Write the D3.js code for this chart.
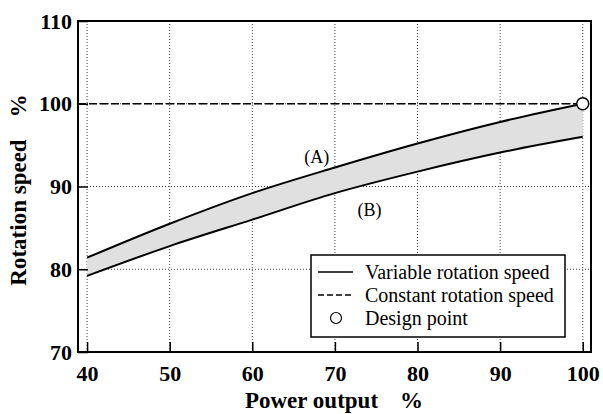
<!DOCTYPE html>
<html>
<head>
<meta charset="utf-8">
<script src="https://cdn.jsdelivr.net/npm/d3@7"></script>
<style>
  body { margin: 0; background: #fff; }
</style>
</head>
<body>
<svg id="chart" width="603" height="414" font-family="Liberation Serif"></svg>
<script>
// ---- data ----
const powerOutput = [40, 50, 60, 70, 80, 90, 100];
const speedA = [81.4, 85.5, 89.2, 92.3, 95.2, 97.8, 100.0];   // upper bound (A)
const speedB = [79.2, 82.8, 86.0, 89.2, 91.8, 94.1, 96.0];    // lower bound (B)
const constantSpeed = 100;
const designPoint = [100, 100];
const xTicks = [40, 50, 60, 70, 80, 90, 100];
const yTicks = [70, 80, 90, 100, 110];
const legendLabels = ["Variable rotation speed", "Constant rotation speed", "Design point"];

const FONT = "Liberation Serif";
const svg = d3.select("#chart");
const x = d3.scaleLinear().domain([38.9, 101]).range([78, 591]);
const y = d3.scaleLinear().domain([70, 110]).range([352, 21]);

// grid
const grid = svg.append("g").attr("stroke", "#444").attr("stroke-width", 1).attr("stroke-dasharray", "1,2");
grid.selectAll(".gx").data(xTicks).join("line")
  .attr("x1", d => x(d)).attr("x2", d => x(d)).attr("y1", y(110)).attr("y2", y(70));
grid.selectAll(".gy").data(yTicks.filter(d => d > 70 && d < 110)).join("line")
  .attr("x1", x.range()[0]).attr("x2", x.range()[1]).attr("y1", d => y(d)).attr("y2", d => y(d));

// band
const pts = powerOutput.map((p, i) => ({p, a: speedA[i], b: speedB[i]}));
svg.append("path").datum(pts)
  .attr("fill", "#e0e0e0")
  .attr("d", d3.area().x(d => x(d.p)).y0(d => y(d.b)).y1(d => y(d.a)).curve(d3.curveMonotoneX));

const line = d3.line().curve(d3.curveMonotoneX);
svg.append("path").attr("fill", "none").attr("stroke", "#000").attr("stroke-width", 2)
  .attr("d", line(pts.map(d => [x(d.p), y(d.a)])));
svg.append("path").attr("fill", "none").attr("stroke", "#000").attr("stroke-width", 2)
  .attr("d", line(pts.map(d => [x(d.p), y(d.b)])));

// constant speed
svg.append("line").attr("stroke", "#000").attr("stroke-width", 1.5).attr("stroke-dasharray", "8,3")
  .attr("x1", x.range()[0]).attr("x2", x(designPoint[0])).attr("y1", y(constantSpeed)).attr("y2", y(constantSpeed));

// labels A / B
svg.append("text").attr("x", x(67.8)).attr("y", y(92.3) - 4).attr("text-anchor", "middle")
  .attr("font-family", FONT).attr("font-size", 18).text("(A)");
svg.append("text").attr("x", x(74.2)).attr("y", y(87.2) + 6).attr("text-anchor", "middle")
  .attr("font-family", FONT).attr("font-size", 18).text("(B)");

// axes
const xAxis = svg.append("g").attr("transform", `translate(0,${y(70)})`)
  .call(d3.axisBottom(x).tickValues(xTicks).tickSize(-10).tickPadding(13));
const yAxis = svg.append("g").attr("transform", `translate(${x.range()[0]},0)`)
  .call(d3.axisLeft(y).tickValues(yTicks).tickSize(-10).tickPadding(6));
[xAxis, yAxis].forEach(g => {
  g.attr("font-family", FONT).attr("font-size", 22);
  g.select(".domain").remove();
  g.selectAll(".tick line").attr("stroke", "#000").attr("stroke-width", 1.5);
  g.selectAll(".tick text").attr("font-family", FONT)
    .attr("font-size", 22).attr("font-weight", "bold").attr("fill", "#000");
});

// frame
svg.append("rect").attr("x", x.range()[0]).attr("y", y(110))
  .attr("width", x.range()[1] - x.range()[0]).attr("height", y(70) - y(110))
  .attr("fill", "none").attr("stroke", "#000").attr("stroke-width", 2);

// design point
svg.append("circle").attr("cx", x(designPoint[0])).attr("cy", y(designPoint[1])).attr("r", 6)
  .attr("fill", "#fff").attr("stroke", "#000").attr("stroke-width", 1.5);

// legend
const lg = svg.append("g").attr("transform", "translate(311,255)");
lg.append("rect").attr("width", 254).attr("height", 82).attr("fill", "#fff")
  .attr("stroke", "#000").attr("stroke-width", 1.5);
const rowY = [17, 40, 63];
lg.append("line").attr("x1", 7).attr("x2", 42).attr("y1", rowY[0]).attr("y2", rowY[0])
  .attr("stroke", "#000").attr("stroke-width", 1.5);
lg.append("line").attr("x1", 7).attr("x2", 42).attr("y1", rowY[1]).attr("y2", rowY[1])
  .attr("stroke", "#000").attr("stroke-width", 1.5).attr("stroke-dasharray", "6,3");
lg.append("circle").attr("cx", 25).attr("cy", rowY[2]).attr("r", 5.5)
  .attr("fill", "#fff").attr("stroke", "#000").attr("stroke-width", 1.2);
lg.selectAll(".lt").data(legendLabels).join("text")
  .attr("x", 54).attr("y", (d, i) => rowY[i]).attr("dy", "0.35em")
  .attr("font-family", FONT).attr("font-size", 20).text(d => d);

// axis titles
const xt = svg.append("text").attr("x", 334).attr("y", 408).attr("text-anchor", "middle")
  .attr("font-family", FONT).attr("font-size", 23).attr("font-weight", "bold");
xt.append("tspan").text("Power output");
xt.append("tspan").attr("dx", 22).text("%");

const yt = svg.append("text").attr("transform", "translate(26,190) rotate(-90)")
  .attr("text-anchor", "middle").attr("font-family", FONT).attr("font-size", 23).attr("font-weight", "bold");
yt.append("tspan").text("Rotation speed");
yt.append("tspan").attr("dx", 22).text("%");
</script>
</body>
</html>
